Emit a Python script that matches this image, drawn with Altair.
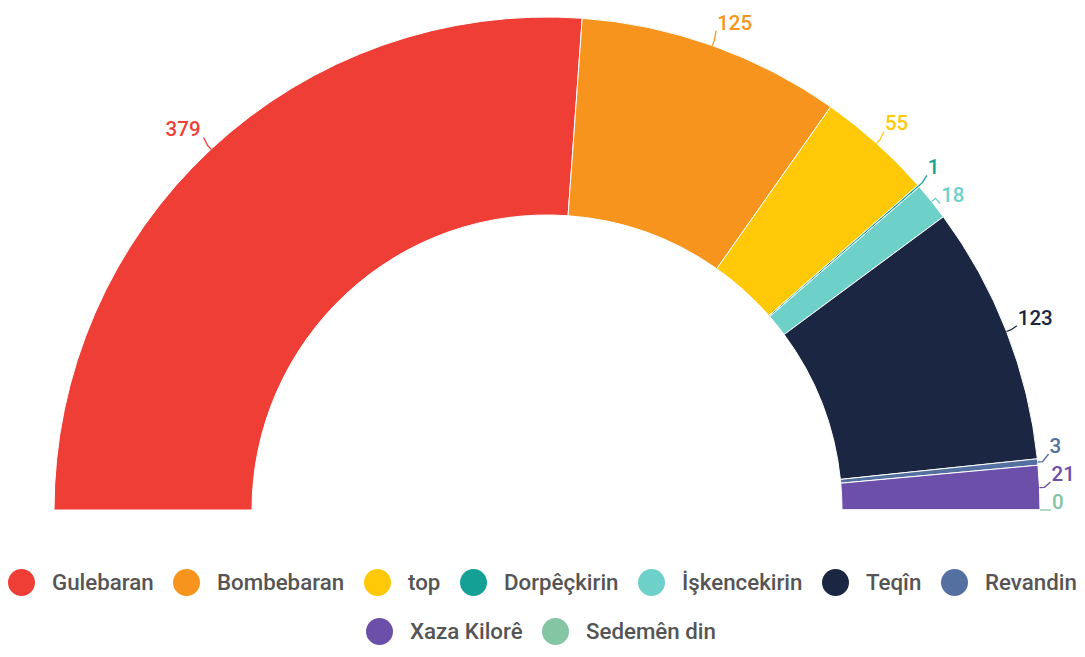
import math
import altair as alt
import pandas as pd

# ---- data ----
categories = ["Gulebaran", "Bombebaran", "top", "Dorpêçkirin", "İşkencekirin",
              "Teqîn", "Revandin", "Xaza Kilorê", "Sedemên din"]
values = [379, 125, 55, 1, 18, 123, 3, 21, 0]
colors = ["#EE3E36", "#F7941D", "#FFC907", "#14A094", "#6DD0C9",
          "#1B2642", "#5470A0", "#6B4FA8", "#84C5A4"]

# ---- layout constants ----
W, H = 1069, 637          # whole drawing area (autosize none)
CX, CY = 539, 502         # centre of the half donut inside the plot
R_OUT, R_IN = 493, 295
GAP = 28
FONT = "Roboto"

total = sum(values)
df = pd.DataFrame({"cat": categories, "value": values, "order": list(range(len(categories)))})

# ---- label / connector layout derived from the values ----
recs = []
cum = 0
for i, (c, v) in enumerate(zip(categories, values)):
    a = (cum + v / 2) / total * math.pi   # angle measured from the left end
    cum += v
    ux, uy = -math.cos(a), math.sin(a)
    recs.append(dict(cat=c, value=v, i=i,
                     x0=R_OUT * ux, y0=R_OUT * uy,
                     x1=(R_OUT + 5) * ux, y1=(R_OUT + 5) * uy,
                     x2=(R_OUT + 11) * ux, y2=(R_OUT + 16) * uy,
                     side="right" if ux >= 0 else "left"))
for side in ("left", "right"):
    grp = sorted([r for r in recs if r["side"] == side], key=lambda r: -r["y2"])
    for k in range(1, len(grp)):
        grp[k]["y2"] = min(grp[k]["y2"], grp[k - 1]["y2"] - GAP)
    if grp:
        grp[-1]["y2"] = max(grp[-1]["y2"], 0)
    for k in range(len(grp) - 2, -1, -1):
        grp[k]["y2"] = max(grp[k]["y2"], grp[k + 1]["y2"] + GAP)
for r in recs:
    r["tx"] = r["x2"] + (1 if r["side"] == "right" else -3)
    r["ty"] = r["y2"]

lab_df = pd.DataFrame(recs)
line_rows = []
for r in recs:
    for p in range(3):
        line_rows.append(dict(cat=r["cat"], pt=p, px=r[f"x{p}"], py=r[f"y{p}"]))
line_df = pd.DataFrame(line_rows)

xs = alt.Scale(domain=[-CX, W - CX], nice=False, zero=False)
ys = alt.Scale(domain=[-(H - CY), CY], nice=False, zero=False)
theta_scale = alt.Scale(domain=[0, total], range=[-math.pi / 2, math.pi / 2])
full_color = alt.Scale(domain=categories, range=colors)


def legend(x, y):
    return alt.Legend(orient="none", legendX=x, legendY=y, direction="horizontal",
                      title=None, symbolType="circle", symbolSize=729,
                      symbolStrokeWidth=0, symbolOpacity=1,
                      labelFont=FONT, labelFontSize=22.3, labelFontWeight=500,
                      labelColor="#555555",
                      labelOffset=17, columnPadding=19, padding=0, labelLimit=300)


base_arc = (alt.Chart(df)
            .transform_window(end="sum(value)", sort=[alt.SortField("order")])
            .transform_calculate(start="datum.end - datum.value"))


def arcs(cats, cols, lx, ly):
    return (base_arc
            .transform_filter(alt.FieldOneOfPredicate(field="cat", oneOf=cats))
            .mark_arc(stroke="white", strokeWidth=1, radius=R_OUT, radius2=R_IN)
            .encode(
                x=alt.X(datum=0, type="quantitative", scale=xs, axis=None),
                y=alt.Y(datum=0, type="quantitative", scale=ys, axis=None),
                theta=alt.Theta("start:Q", scale=theta_scale, stack=None),
                theta2=alt.Theta2("end:Q"),
                color=alt.Color("cat:N", scale=alt.Scale(domain=cats, range=cols),
                                legend=legend(lx, ly)),
            ))


arcs1 = arcs(categories[:7], colors[:7], 0, 561)
arcs2 = arcs(categories[7:], colors[7:], 358, 610)

lines = alt.Chart(line_df).mark_line(strokeWidth=1.3).encode(
    x=alt.X("px:Q", scale=xs, axis=None),
    y=alt.Y("py:Q", scale=ys, axis=None),
    detail="cat:N",
    order=alt.Order("pt:Q"),
    color=alt.Color("cat:N", scale=full_color, legend=None),
)


def labels(side, align):
    return alt.Chart(lab_df).transform_filter(alt.datum.side == side).mark_text(
        align=align, baseline="alphabetic", font=FONT, fontSize=20.5, fontWeight=500, dy=-1
    ).encode(
        x=alt.X("tx:Q", scale=xs, axis=None),
        y=alt.Y("ty:Q", scale=ys, axis=None),
        text="value:Q",
        color=alt.Color("cat:N", scale=full_color, legend=None),
    )


chart = (alt.layer(arcs1, arcs2, lines, labels("right", "left"), labels("left", "right"))
         .resolve_scale(color="independent")
         .properties(width=W, height=H, padding=0, background="white",
                     autosize=alt.AutoSizeParams(type="none"))
         .configure_view(strokeWidth=0))

chart.save("out.html", embed_options={"renderer": "svg", "actions": False})
